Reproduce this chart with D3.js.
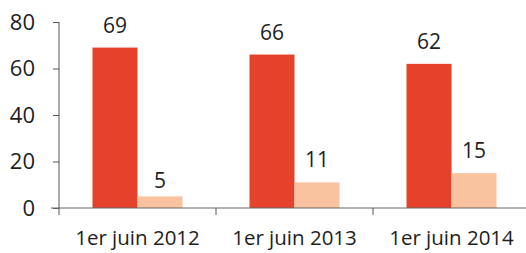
<!DOCTYPE html>
<html>
<head>
<meta charset="utf-8">
<script src="https://cdn.jsdelivr.net/npm/d3@7"></script>
<style>
  body { margin: 0; background: #fff; }
  svg text { font-family: "Open Sans", sans-serif; fill: #1e1e1e; }
</style>
</head>
<body>
<div id="chart"></div>
<script>
// data
const categories = ["1er juin 2012", "1er juin 2013", "1er juin 2014"];
const seriesA = [69, 66, 62];   // dark red bars
const seriesB = [5, 11, 15];    // light peach bars
const yTicks = [0, 20, 40, 60, 80];

const W = 526, H = 253;
const margin = { top: 22, right: -4, bottom: 45, left: 59 };

const svg = d3.select("#chart").append("svg")
  .attr("width", W)
  .attr("height", H);

const x = d3.scaleBand()
  .domain(categories)
  .range([margin.left, W - margin.right])
  .paddingInner(0)
  .paddingOuter(0);

const y = d3.scaleLinear()
  .domain([0, 80])
  .range([H - margin.bottom, margin.top]);

const barW = 45;

// bars
const groups = svg.selectAll(".grp")
  .data(categories)
  .enter().append("g")
  .attr("class", "grp");

groups.append("rect")
  .attr("x", d => x(d) + x.bandwidth() / 2 - barW)
  .attr("y", (d, i) => y(seriesA[i]))
  .attr("width", barW)
  .attr("height", (d, i) => y(0) - y(seriesA[i]))
  .attr("fill", "#e6412a");

groups.append("rect")
  .attr("x", d => x(d) + x.bandwidth() / 2)
  .attr("y", (d, i) => y(seriesB[i]))
  .attr("width", barW)
  .attr("height", (d, i) => y(0) - y(seriesB[i]))
  .attr("fill", "#f9c3a0");

// value labels
groups.append("text")
  .attr("x", d => x(d) + x.bandwidth() / 2 - barW / 2)
  .attr("y", (d, i) => y(seriesA[i]) - 15)
  .attr("text-anchor", "middle")
  .style("font-size", "21px")
  .text((d, i) => seriesA[i]);

groups.append("text")
  .attr("x", d => x(d) + x.bandwidth() / 2 + barW / 2)
  .attr("y", (d, i) => y(seriesB[i]) - (seriesB[i] < 8 ? 8 : 15))
  .attr("text-anchor", "middle")
  .style("font-size", "21px")
  .text((d, i) => seriesB[i]);

// y axis
const yAxis = svg.append("g")
  .attr("transform", `translate(${margin.left},0)`)
  .call(d3.axisLeft(y).tickValues(yTicks).tickSize(6).tickPadding(18));
yAxis.select(".domain")
  .attr("d", `M0,${y(80)}V${y(0) + 7}`);
yAxis.selectAll("line, .domain").attr("stroke", "#555");
yAxis.selectAll("text")
  .style("font-size", "22px")
  .attr("fill", "#1e1e1e");

// x axis
const xAxis = svg.append("g")
  .attr("transform", `translate(0,${y(0)})`)
  .call(d3.axisBottom(x).tickSize(0).tickPadding(22));
xAxis.select(".domain")
  .attr("d", `M${margin.left - 8},0H${W}`);
xAxis.selectAll(".domain").attr("stroke", "#666");
xAxis.selectAll("text")
  .style("font-size", "20.5px")
  .attr("fill", "#1e1e1e");

// boundary ticks between categories
svg.append("g")
  .selectAll("line")
  .data(categories.slice(1))
  .enter().append("line")
  .attr("x1", d => x(d))
  .attr("x2", d => x(d))
  .attr("y1", y(0))
  .attr("y2", y(0) + 7)
  .attr("stroke", "#555");
</script>
</body>
</html>
